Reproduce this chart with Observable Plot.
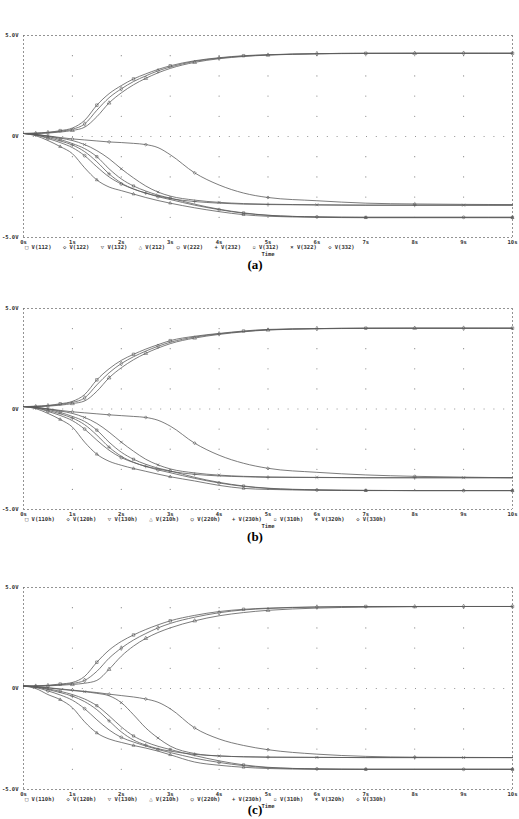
<!DOCTYPE html>
<html><head><meta charset="utf-8">
<script src="https://cdn.jsdelivr.net/npm/d3@7"></script>
<script src="https://cdn.jsdelivr.net/npm/@observablehq/plot@0.6"></script>
<style>
html,body{margin:0;padding:0;background:#fff;}
#root{position:relative;width:519px;height:819px;overflow:hidden;background:#fff;}
.panel{position:absolute;left:0;width:519px;}
.panel svg{display:block;}
.legend{position:absolute;left:0;width:519px;height:6px;font:bold 5.5px/6px "DejaVu Sans Mono",monospace;color:#333;white-space:nowrap;}
.legend span{position:absolute;top:0;}
.caption{position:absolute;font:bold 13px/14px "Liberation Serif","Times New Roman",serif;color:#000;transform:translate(-50%,-50%);}
</style>
</head><body><div id="root"></div>
<script>
// time samples (s)
const time = [0, 0.25, 0.5, 0.75, 1, 1.25, 1.5, 1.75, 2, 2.25, 2.5, 2.75, 3, 3.5, 4, 4.5, 5, 6, 7, 8, 9, 10];
const xTicks = [0,1,2,3,4,5,6,7,8,9,10];
const xTickLabels = ["0s","1s","2s","3s","4s","5s","6s","7s","8s","9s","10s"];
const yTicks = [-5, 0, 5];
const yTickLabels = ["-5.0V", "0V", "5.0V"];
const xGrid = [1,2,3,4,5,6,7,8,9];
const yGrid = [-4,-3,-2,-1,1,2,3,4];
const symbolNames = ["square","diamond","triangle","triangle2","circle","plus","square2","times","diamond2"];
const symbolGlyphs = ["\u25A1","\u25C7","\u25BD","\u25B3","\u25CB","+","\u25AB","\u00D7","\u25C7"];

// panel (a)
const seriesA = ["V(112)","V(122)","V(132)","V(212)","V(222)","V(232)","V(312)","V(322)","V(332)"];
const a112 = [0.15,0.17,0.21,0.29,0.42,0.8,1.55,2.12,2.52,2.85,3.1,3.32,3.5,3.75,3.9,4.0,4.05,4.1,4.12,4.12,4.12,4.12];
const a122 = [0.15,0.16,0.19,0.26,0.36,0.62,1.3,1.92,2.36,2.72,3.0,3.25,3.44,3.72,3.88,3.98,4.04,4.1,4.12,4.12,4.12,4.12];
const a132 = [0.15,0.15,0.17,0.22,0.3,0.46,0.98,1.66,2.16,2.56,2.88,3.15,3.37,3.67,3.85,3.96,4.03,4.09,4.11,4.12,4.12,4.12];
const a212 = [0.15,0.04,-0.2,-0.5,-0.85,-1.55,-2.15,-2.5,-2.68,-2.85,-3.02,-3.17,-3.3,-3.53,-3.72,-3.87,-3.95,-4.0,-4.02,-4.02,-4.02,-4.02];
const a222 = [0.15,0.08,-0.1,-0.3,-0.55,-0.95,-1.5,-2.0,-2.35,-2.6,-2.8,-2.98,-3.12,-3.4,-3.62,-3.8,-3.9,-3.98,-4.0,-4.0,-4.0,-4.0];
const a232 = [0.15,0.08,-0.05,-0.22,-0.42,-0.75,-1.25,-1.85,-2.3,-2.6,-2.8,-2.95,-3.07,-3.22,-3.3,-3.35,-3.37,-3.39,-3.4,-3.4,-3.4,-3.4];
const a312 = [0.15,0.1,0.0,-0.15,-0.35,-0.6,-1.0,-1.6,-2.1,-2.45,-2.7,-2.9,-3.05,-3.35,-3.6,-3.78,-3.9,-3.98,-4.0,-4.0,-4.0,-4.0];
const a322 = [0.15,0.1,0.02,-0.08,-0.2,-0.4,-0.7,-1.1,-1.6,-2.05,-2.45,-2.75,-2.95,-3.15,-3.26,-3.32,-3.35,-3.38,-3.4,-3.4,-3.4,-3.4];
const a332 = [0.15,0.1,0.03,-0.05,-0.12,-0.17,-0.22,-0.27,-0.3,-0.34,-0.4,-0.55,-0.9,-1.8,-2.4,-2.8,-3.02,-3.18,-3.3,-3.34,-3.36,-3.37];

// panel (b)
const seriesB = ["V(110h)","V(120h)","V(130h)","V(210h)","V(220h)","V(230h)","V(310h)","V(320h)","V(330h)"];
const b110 = [0.12,0.14,0.18,0.26,0.38,0.72,1.45,2.0,2.42,2.72,2.98,3.2,3.4,3.62,3.76,3.88,3.96,4.0,4.02,4.02,4.02,4.02];
const b120 = [0.12,0.13,0.16,0.23,0.33,0.55,1.2,1.8,2.26,2.6,2.88,3.12,3.32,3.58,3.74,3.86,3.94,4.0,4.02,4.02,4.02,4.02];
const b130 = [0.12,0.12,0.14,0.19,0.27,0.4,0.88,1.55,2.05,2.45,2.77,3.03,3.25,3.53,3.71,3.84,3.93,3.99,4.01,4.02,4.02,4.02];
const b210 = [0.12,0.02,-0.22,-0.52,-0.9,-1.65,-2.25,-2.6,-2.8,-2.96,-3.1,-3.24,-3.37,-3.58,-3.8,-3.95,-4.0,-4.04,-4.06,-4.06,-4.06,-4.06];
const b220 = [0.12,0.06,-0.12,-0.32,-0.58,-1.0,-1.55,-2.05,-2.42,-2.66,-2.86,-3.03,-3.17,-3.45,-3.68,-3.85,-3.95,-4.03,-4.05,-4.06,-4.06,-4.06];
const b230 = [0.12,0.06,-0.07,-0.24,-0.45,-0.78,-1.3,-1.9,-2.35,-2.65,-2.85,-2.98,-3.1,-3.25,-3.33,-3.37,-3.4,-3.41,-3.42,-3.42,-3.42,-3.42];
const b310 = [0.12,0.08,-0.02,-0.17,-0.37,-0.62,-1.05,-1.65,-2.15,-2.5,-2.75,-2.94,-3.08,-3.4,-3.65,-3.83,-3.94,-4.02,-4.05,-4.06,-4.06,-4.06];
const b320 = [0.12,0.08,0.0,-0.1,-0.22,-0.42,-0.72,-1.15,-1.65,-2.1,-2.5,-2.78,-2.98,-3.18,-3.29,-3.35,-3.38,-3.4,-3.42,-3.42,-3.42,-3.42];
const b330 = [0.12,0.08,0.01,-0.07,-0.14,-0.19,-0.24,-0.29,-0.33,-0.37,-0.42,-0.56,-0.85,-1.7,-2.3,-2.7,-2.95,-3.15,-3.28,-3.35,-3.39,-3.42];

// panel (c)
const seriesC = ["V(110h)","V(120h)","V(130h)","V(210h)","V(220h)","V(230h)","V(310h)","V(320h)","V(330h)"];
const c110 = [0.12,0.13,0.16,0.22,0.3,0.6,1.3,1.9,2.33,2.65,2.92,3.15,3.35,3.62,3.81,3.92,3.98,4.04,4.06,4.06,4.06,4.06];
const c120 = [0.12,0.12,0.14,0.19,0.25,0.4,0.85,1.5,2.0,2.4,2.72,3.0,3.22,3.53,3.75,3.89,3.96,4.03,4.05,4.06,4.06,4.06];
const c130 = [0.12,0.12,0.13,0.16,0.2,0.26,0.4,0.95,1.6,2.1,2.48,2.77,3.0,3.35,3.6,3.76,3.87,3.98,4.03,4.05,4.06,4.06];
const c210 = [0.12,0.0,-0.3,-0.55,-0.95,-1.65,-2.2,-2.5,-2.67,-2.82,-2.95,-3.1,-3.28,-3.64,-3.8,-3.9,-3.96,-4.0,-4.0,-4.0,-4.0,-4.0];
const c220 = [0.12,0.05,-0.12,-0.32,-0.58,-1.0,-1.55,-2.05,-2.42,-2.65,-2.85,-3.02,-3.17,-3.45,-3.66,-3.82,-3.92,-3.98,-4.0,-4.0,-4.0,-4.0];
const c230 = [0.12,0.07,-0.05,-0.2,-0.38,-0.65,-1.05,-1.6,-2.15,-2.55,-2.8,-2.98,-3.1,-3.26,-3.34,-3.38,-3.4,-3.41,-3.42,-3.42,-3.42,-3.42];
const c310 = [0.12,0.08,-0.02,-0.14,-0.3,-0.52,-0.85,-1.35,-1.9,-2.35,-2.65,-2.86,-3.02,-3.32,-3.58,-3.78,-3.9,-3.98,-4.0,-4.0,-4.0,-4.0];
const c320 = [0.12,0.09,0.03,-0.04,-0.1,-0.16,-0.24,-0.36,-0.7,-1.3,-1.95,-2.45,-2.85,-3.22,-3.34,-3.38,-3.4,-3.41,-3.42,-3.42,-3.42,-3.42];
const c330 = [0.12,0.09,0.04,-0.02,-0.08,-0.14,-0.2,-0.28,-0.35,-0.42,-0.52,-0.68,-1.0,-1.95,-2.5,-2.82,-3.03,-3.25,-3.36,-3.4,-3.41,-3.42];

const panels = [
  {top: 0, h: 273, mt: 35, mb: 36, series: seriesA, values: [a112,a122,a132,a212,a222,a232,a312,a322,a332], caption: "(a)", spacing: 37.9, capOff: 28},
  {top: 273, h: 279, mt: 35, mb: 43, series: seriesB, values: [b110,b120,b130,b210,b220,b230,b310,b320,b330], caption: "(b)", spacing: 41.4, capOff: 28},
  {top: 552, h: 267, mt: 35, mb: 30, series: seriesC, values: [c110,c120,c130,c210,c220,c230,c310,c320,c330], caption: "(c)", spacing: 41.4, capOff: 21}
];

const root = document.getElementById("root");
const ink = "#5a5a5a";

for (const p of panels) {
  const data = [];
  p.series.forEach((name, k) => p.values[k].forEach((v, i) => data.push({name, k, i, t: time[i], v})));
  const grid = [];
  for (const t of xGrid) for (const v of yGrid) grid.push({t, v});
  const chart = Plot.plot({
    width: 519, height: p.h,
    marginLeft: 23, marginRight: 7, marginTop: p.mt, marginBottom: p.mb,
    x: {domain: [0, 10]},
    y: {domain: [-5, 5]},
    symbol: {domain: p.series, range: symbolNames},
    style: {fontFamily: "'DejaVu Sans Mono', monospace", fontSize: "5.5px", fontWeight: "bold", color: "#333", background: "#fff", overflow: "visible"},
    marks: [
      Plot.dot(grid, {x: "t", y: "v", r: 0.6, fill: "#888", stroke: null}),
      Plot.ruleY([0], {stroke: "#777", strokeWidth: 0.8, strokeDasharray: "1,8.8"}),
      Plot.ruleY([-5, 5], {stroke: "#777", strokeWidth: 0.8, strokeDasharray: "2,2"}),
      Plot.ruleX([0, 10], {stroke: "#777", strokeWidth: 0.8, strokeDasharray: "2,2"}),
      Plot.lineY(data, {x: "t", y: "v", z: "name", stroke: ink, strokeWidth: 0.8, curve: "monotone-x"}),
      Plot.dot(data.filter(d => d.i > 0 && (d.i + d.k) % 3 === 0), {x: "t", y: "v", symbol: "name", r: 1.4, stroke: ink, strokeWidth: 0.6, fill: "none"}),
      Plot.axisX({ticks: xTicks, tickFormat: d => xTickLabels[xTicks.indexOf(d)], tickSize: 0, tickPadding: 3, label: "Time", labelAnchor: "center", labelOffset: 18, labelArrow: "none"}),
      Plot.axisY({ticks: yTicks, tickFormat: d => yTickLabels[yTicks.indexOf(d)], tickSize: 0, tickPadding: 5, label: null})
    ]
  });
  const wrap = document.createElement("div");
  wrap.className = "panel";
  wrap.style.top = p.top + "px";
  wrap.style.height = p.h + "px";
  wrap.appendChild(chart);
  const plotBottom = p.h - p.mb;
  const legend = document.createElement("div");
  legend.className = "legend";
  legend.style.top = (plotBottom + 7) + "px";
  p.series.forEach((name, k) => {
    const s = document.createElement("span");
    s.style.left = (25 + k * p.spacing) + "px";
    s.textContent = symbolGlyphs[k] + " " + name;
    legend.appendChild(s);
  });
  wrap.appendChild(legend);
  const cap = document.createElement("div");
  cap.className = "caption";
  cap.style.left = "255px";
  cap.style.top = (plotBottom + p.capOff) + "px";
  cap.textContent = p.caption;
  wrap.appendChild(cap);
  root.appendChild(wrap);
}
</script>
</body></html>
